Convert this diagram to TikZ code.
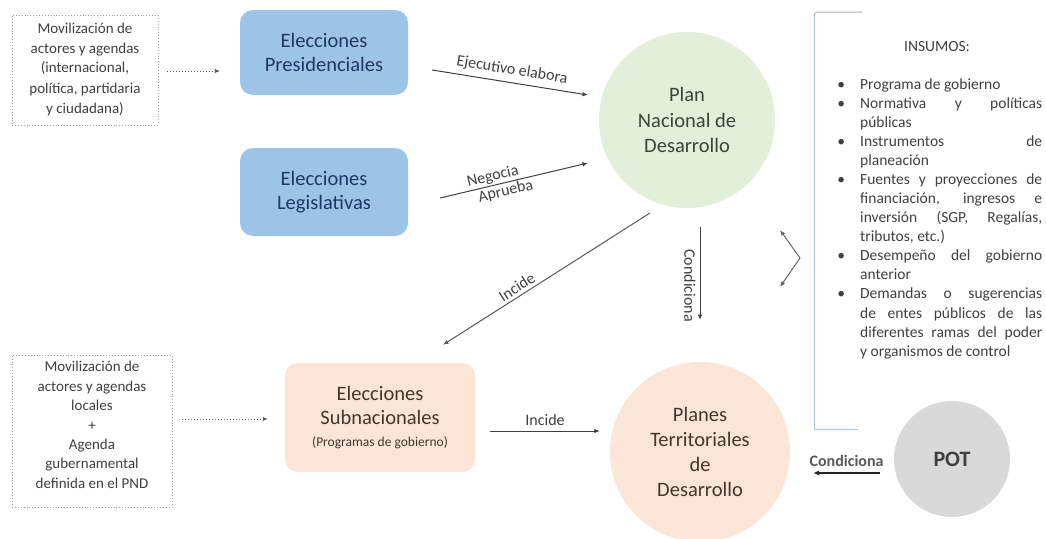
\documentclass[tikz,border=0pt]{standalone}
\usepackage{fontspec}
\setmainfont{Carlito}
\usetikzlibrary{arrows.meta,calc}
\definecolor{boxblue}{HTML}{9DC3E6}
\definecolor{navy}{HTML}{1F3864}
\definecolor{pgreen}{HTML}{E2EFD9}
\definecolor{peach}{HTML}{FBE5D6}
\definecolor{potgray}{HTML}{D9D9D9}
\definecolor{txt}{HTML}{404040}
\definecolor{brackc}{HTML}{A9C4DE}
\definecolor{greentxt}{HTML}{3A4634}
\definecolor{browntxt}{HTML}{45362C}
\begin{document}
\begin{tikzpicture}[x=1pt,y=-1pt,
  dotbox/.style={draw=gray!75, dotted, line width=0.9pt, inner sep=0pt},
  dottxt/.style={align=center, text=txt, font=\fontsize{15}{20}\selectfont, inner sep=0pt},
  bluebox/.style={fill=boxblue, rounded corners=13pt, minimum width=168pt, inner sep=0pt,
     align=center, text=navy, font=\fontsize{20.5}{24}\selectfont},
  peachbox/.style={fill=peach, rounded corners=13pt, minimum width=190pt, minimum height=109pt,
     inner sep=0pt, align=center, text=browntxt, font=\fontsize{20.5}{24.5}\selectfont},
  bigcirc/.style={circle, inner sep=0pt, align=center, font=\fontsize{20.5}{25.2}\selectfont},
  arr/.style={-{Latex[length=5.5pt,width=4.5pt]}, line width=1pt, draw=txt},
  dotarr/.style={-{Latex[length=5pt,width=4.5pt]}, dotted, line width=1pt, draw=gray!70!black},
  lbl/.style={text=txt, font=\fontsize{16}{18}\selectfont, inner sep=2pt},
]
\useasboundingbox[fill=white] (0,0) rectangle (1046,538);

% left boxes
\node[dotbox, minimum width=146pt, minimum height=110pt] (d1) at (85,70) {};
\node[dottxt] (d1t) at (85,69) {Movilización de\\actores y agendas\\(internacional,\\política, partidaria\\y ciudadana)};
\node[dotbox, minimum width=160pt, minimum height=152pt] (d2) at (92,431) {};
\node[dottxt, font=\fontsize{15}{19.4}\selectfont] (d2t) at (92,425) {Movilización de\\actores y agendas\\locales\\+\\Agenda\\gubernamental\\definida en el PND};

% election boxes
\node[bluebox, minimum height=85pt] (pres) at (324,52.5) {Elecciones\\Presidenciales};
\node[bluebox, minimum height=88pt] (legis) at (324,192) {Elecciones\\Legislativas};
\node[peachbox] (sub) at (380,417.5) {Elecciones\\Subnacionales\\[-3pt]{\fontsize{13.5}{16}\selectfont (Programas de gobierno)}};

% circles
\node[bigcirc, fill=pgreen, minimum size=176pt, text=greentxt] (pnd) at (687,120) {Plan\\Nacional de\\Desarrollo};
\node[bigcirc, fill=peach, minimum size=180pt, text=browntxt] (ptd) at (700,452) {Planes\\Territoriales\\de\\Desarrollo};
\node[circle, fill=potgray, minimum size=116pt, inner sep=0pt, text=txt, font=\fontsize{22}{24}\selectfont\bfseries] (pot) at (952,459) {POT};

% insumos bracket and list
\draw[brackc, line width=1pt] (814,14) -- (814,429) -- (858,429);
\draw[gray!60, line width=1pt] (862,12) -- (818,12) to[out=180,in=90] (814,15);
\node[text=txt, font=\fontsize{15.5}{18}\selectfont, inner sep=0pt] (ins) at (937,47) {INSUMOS:};
\node[anchor=north west, inner sep=0pt, align=left, text=txt, font=\fontsize{15.5}{19.07}\selectfont] (list) at (860,77) {%
\rule{0pt}{12pt}\llap{\textbullet\hspace{15pt}}Programa de gobierno\\
\llap{\textbullet\hspace{15pt}}\makebox[182pt][s]{Normativa y políticas}\\
públicas\\
\llap{\textbullet\hspace{15pt}}\makebox[182pt][s]{Instrumentos de}\\
planeación\\
\llap{\textbullet\hspace{15pt}}\makebox[182pt][s]{Fuentes y proyecciones de}\\
\makebox[182pt][s]{financiación, ingresos e}\\
\makebox[182pt][s]{inversión (SGP, Regalías,}\\
tributos, etc.)\\
\llap{\textbullet\hspace{15pt}}\makebox[182pt][s]{Desempeño del gobierno}\\
anterior\\
\llap{\textbullet\hspace{15pt}}\makebox[182pt][s]{Demandas o sugerencias}\\
\makebox[182pt][s]{de entes públicos de las}\\
\makebox[182pt][s]{diferentes ramas del poder}\\
y organismos de control};

% bracket arrows
\coordinate (bv) at (800,258);
\coordinate (bu) at (780,230);
\coordinate (bl) at (780,287);
\draw[arr, draw=gray!80!black] (bv) -- (bu);
\draw[arr, draw=gray!80!black] (bv) -- (bl);

% connectors
\draw[dotarr] ($(d1.east)+(9,1)$) -- ($(d1.east -| pres.west)+(-20,1)$);
\draw[dotarr] ($(d2.east)+(10,-12)$) -- ($(sub.west)+(-17,1.5)$);

\draw[arr] ($(pres.east)+(24,17.5)$) -- ($(pnd.center)+(-99,-25)$)
  node[lbl, midway, above=3pt, sloped] (l1) {Ejecutivo elabora};
\draw[arr] ($(legis.east)+(32,6)$) -- ($(pnd.center)+(-99,43)$)
  node[lbl, pos=0.37, above, sloped, inner sep=1.5pt] (l2) {Negocia}
  node[lbl, pos=0.43, below, sloped, inner sep=1.5pt] (l3) {Aprueba};
\draw[arr, draw=gray!70!black] ($(pnd.center)+(-37,93)$) -- ($(sub.north)+(63,-18)$)
  node[lbl, pos=0.62, above=1pt, sloped] (l4) {Incide};
\draw[arr] ($(pnd.center)+(13,107)$) -- ($(ptd.center)+(0,-132)$)
  node[lbl, pos=0.63, rotate=-90, anchor=north, inner sep=4pt] (l5) {Condiciona};
\draw[arr] ($(sub.east)+(15,13.5)$) -- ($(ptd.west)+(-10,-21)$)
  node[lbl, midway, above=3pt] (l6) {Incide};
\draw[-{Latex[length=6pt,width=5.5pt]}, line width=2.2pt, draw=black!85] ($(pot.center)+(-72,14)$) -- ($(ptd.east)+(23,21)$)
  node[lbl, midway, above=3pt, font=\fontsize{16}{18}\selectfont\bfseries, text=black!65] (l7) {Condiciona};
\end{tikzpicture}
\end{document}
